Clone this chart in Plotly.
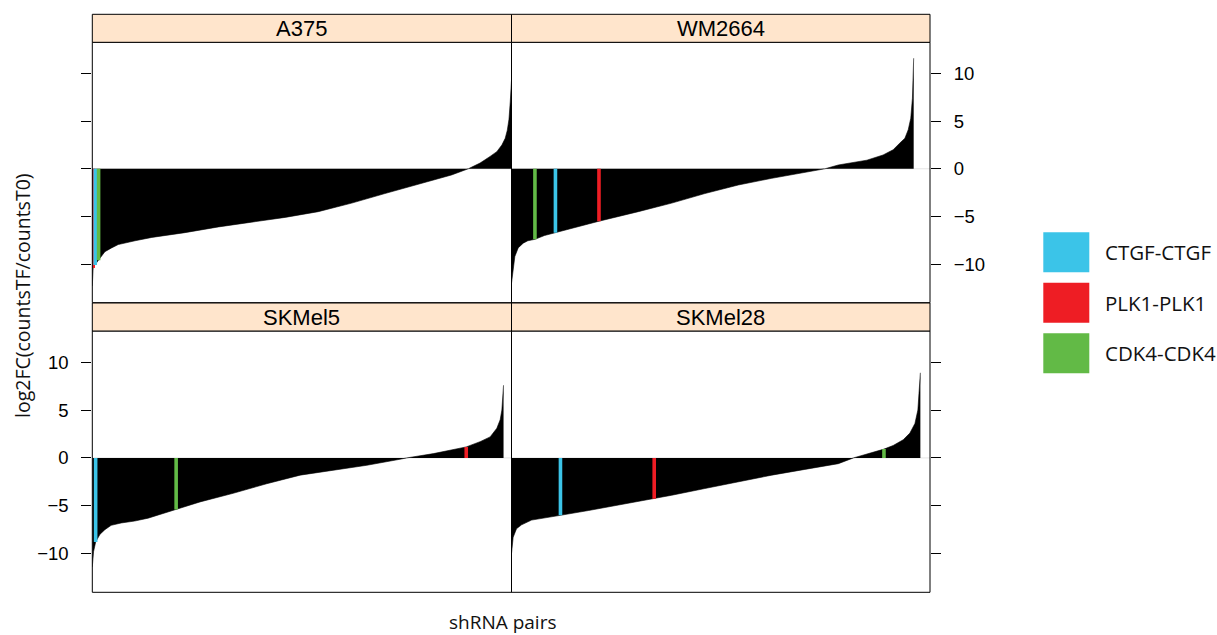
import plotly.graph_objects as go

# ---- data -------------------------------------------------------------
cell_lines = ["A375", "WM2664", "SKMel5", "SKMel28"]

# sorted log2FC profile of all shRNA pairs, sampled along the rank axis (0-1000)
a375_rank = [0, 2, 6, 15, 22, 30, 46, 62, 102, 142, 221, 301, 380, 460, 539,
             619, 698, 778, 857, 897, 925, 949, 965, 977, 985, 990, 994, 997, 1000]
a375_lfc = [-12.3, -10.4, -10.1, -9.6, -9.2, -8.7, -8.3, -7.95, -7.55, -7.2, -6.7,
            -6.1, -5.6, -5.1, -4.5, -3.6, -2.6, -1.6, -0.65, 0.0, 0.6, 1.3, 1.8,
            2.5, 3.2, 4.05, 5.2, 7.0, 9.3]

wm2664_rank = [0, 4, 8, 16, 28, 39, 56, 79, 105, 135, 209, 303, 383, 462, 542,
               622, 701, 749, 781, 849, 888, 912, 928, 940, 948, 954, 958, 961]
wm2664_lfc = [-12.0, -10.5, -9.2, -8.3, -7.8, -7.55, -7.4, -7.0, -6.7, -6.3, -5.5,
              -4.5, -3.6, -2.6, -1.7, -1.0, -0.4, 0.0, 0.4, 0.9, 1.45, 2.0, 2.7,
              3.2, 4.1, 5.3, 7.4, 11.6]

skmel5_rank = [0, 3, 8, 18, 30, 45, 69, 101, 133, 200, 257, 336, 416, 496, 575,
               655, 734, 750, 814, 845, 892, 925, 949, 965, 973, 977, 981]
skmel5_lfc = [-11.4, -9.8, -8.8, -8.0, -7.5, -7.05, -6.8, -6.6, -6.3, -5.4, -4.6,
              -3.7, -2.7, -1.8, -1.3, -0.77, -0.14, 0.0, 0.45, 0.7, 1.15, 1.7,
              2.2, 3.1, 4.0, 5.0, 7.6]

skmel28_rank = [0, 4, 12, 24, 48, 80, 117, 184, 341, 383, 462, 542, 622, 701,
                781, 817, 849, 890, 912, 936, 952, 964, 971, 974, 977]
skmel28_lfc = [-10.0, -8.3, -7.4, -7.0, -6.5, -6.3, -6.0, -5.5, -4.26, -3.9, -3.2,
               -2.5, -1.8, -1.2, -0.6, 0.0, 0.42, 0.92, 1.3, 1.9, 2.6, 3.6, 5.0,
               6.8, 8.9]

# highlighted pairs: rank and log2FC in A375, WM2664, SKMel5, SKMel28
ctgf_rank = [7, 105, 8, 117]
ctgf_lfc = [-10.1, -6.7, -8.8, -6.0]
plk1_rank = [2, 209, 892, 341]
plk1_lfc = [-10.4, -5.5, 1.15, -4.26]
cdk4_rank = [15, 56, 200, 890]
cdk4_lfc = [-9.6, -7.4, -5.4, 0.92]

y_ticks = [-10, -5, 0, 5, 10]

# ---- styling ----------------------------------------------------------
W, H = 1217, 635
BLUE, RED, GREEN = "#3BC4E8", "#EE1D24", "#62BA46"
STRIP_BG = "#FFE5CC"
SANS = "Liberation Sans, Arial, Helvetica, sans-serif"
SOFT = "Open Sans, Noto Sans, sans-serif"

X_LEFT = (92.3, 511.5)
X_RIGHT = (511.5, 930.0)
Y_TOP = (42.3, 302.7)
Y_BOT = (331.0, 592.3)
STRIP_H = 28.0
Y_RANGE = [-14.05, 13.27]
X_RANGE = [0, 1000]


def px_x(v):
    return v / W


def px_y(v):
    return (H - v) / H


panels = [
    # name, profile ranks, profile values, x-span, y-span, axis suffix
    ("A375", a375_rank, a375_lfc, X_LEFT, Y_TOP, ""),
    ("WM2664", wm2664_rank, wm2664_lfc, X_RIGHT, Y_TOP, "2"),
    ("SKMel5", skmel5_rank, skmel5_lfc, X_LEFT, Y_BOT, "3"),
    ("SKMel28", skmel28_rank, skmel28_lfc, X_RIGHT, Y_BOT, "4"),
]

highlights = [
    ("PLK1-PLK1", plk1_rank, plk1_lfc, RED),
    ("CTGF-CTGF", ctgf_rank, ctgf_lfc, BLUE),
    ("CDK4-CDK4", cdk4_rank, cdk4_lfc, GREEN),
]

fig = go.Figure()
shapes = []
annotations = []
layout = {}

for i, (name, ranks, vals, xs, ys, sfx) in enumerate(panels):
    xa, ya = "x" + sfx, "y" + sfx
    # waterfall of sorted values, filled down to zero
    fig.add_trace(go.Scatter(
        x=ranks, y=vals, xaxis=xa, yaxis=ya, mode="lines",
        line=dict(color="black", width=0.6), fill="tozeroy",
        fillcolor="black", hoverinfo="skip", showlegend=False))
    for label, hr, hv, col in highlights:
        fig.add_trace(go.Scatter(
            x=[hr[i], hr[i]], y=[0, hv[i]], xaxis=xa, yaxis=ya, mode="lines",
            line=dict(color=col, width=3.6), name=label, showlegend=False))

    right_side = xs is X_RIGHT
    show_labels = (i == 1) or (i == 2)
    layout["xaxis" + sfx] = dict(
        domain=[px_x(xs[0]), px_x(xs[1])], range=X_RANGE, anchor=ya,
        showgrid=False, zeroline=False, showticklabels=False, ticks="",
        showline=False, fixedrange=True)
    layout["yaxis" + sfx] = dict(
        domain=[px_y(ys[1]), px_y(ys[0])], range=Y_RANGE, anchor=xa,
        side="right" if right_side else "left",
        tickvals=y_ticks, ticks="outside", ticklen=10, tickwidth=1,
        tickcolor="black", showticklabels=show_labels,
        tickfont=dict(family=SANS, size=18.5, color="black"),
        ticklabelstandoff=9,
        showgrid=False, zeroline=False, showline=False, fixedrange=True)

    # light reference line at zero
    shapes.append(dict(type="line", xref=xa + " domain", yref=ya,
                       x0=0, x1=1, y0=0, y1=0, layer="below",
                       line=dict(color="#E4E4E4", width=1)))
    # panel frame
    shapes.append(dict(type="rect", xref="paper", yref="paper",
                       x0=px_x(xs[0]), x1=px_x(xs[1]),
                       y0=px_y(ys[1]), y1=px_y(ys[0]),
                       line=dict(color="black", width=1), layer="above"))
    # strip with cell line name
    shapes.append(dict(type="rect", xref="paper", yref="paper",
                       x0=px_x(xs[0]), x1=px_x(xs[1]),
                       y0=px_y(ys[0]), y1=px_y(ys[0] - STRIP_H),
                       fillcolor=STRIP_BG,
                       line=dict(color="black", width=1), layer="above"))
    annotations.append(dict(text=name, xref="paper", yref="paper",
                            x=px_x((xs[0] + xs[1]) / 2),
                            y=px_y(ys[0] - STRIP_H / 2),
                            xanchor="center", yanchor="middle", showarrow=False,
                            font=dict(family=SANS, size=22, color="black")))

# axis titles
annotations.append(dict(text="log2FC(countsTF/countsT0)", xref="paper",
                        yref="paper", x=px_x(22), y=px_y(296), textangle=-90,
                        xanchor="center", yanchor="middle", showarrow=False,
                        font=dict(family=SOFT, size=19.5, color="#111")))
annotations.append(dict(text="shRNA pairs", xref="paper", yref="paper",
                        x=px_x(503), y=px_y(622), xanchor="center",
                        yanchor="middle", showarrow=False,
                        font=dict(family=SOFT, size=19, color="#111")))

# legend keys
legend_items = [("CTGF-CTGF", BLUE), ("PLK1-PLK1", RED), ("CDK4-CDK4", GREEN)]
for k, (label, col) in enumerate(legend_items):
    top = 232.3 + k * 50.5
    shapes.append(dict(type="rect", xref="paper", yref="paper",
                       x0=px_x(1043.3), x1=px_x(1089.3),
                       y0=px_y(top + 40), y1=px_y(top),
                       fillcolor=col, line=dict(width=0)))
    annotations.append(dict(text=label, xref="paper", yref="paper",
                            x=px_x(1103), y=px_y(top + 20), xanchor="left",
                            yanchor="middle", showarrow=False,
                            font=dict(family=SOFT, size=20.5, color="#111")))

fig.update_layout(
    width=W, height=H, margin=dict(l=0, r=0, t=0, b=0, pad=0),
    paper_bgcolor="white", plot_bgcolor="white",
    shapes=shapes, annotations=annotations, showlegend=False, **layout)

fig.write_html("out.html")
